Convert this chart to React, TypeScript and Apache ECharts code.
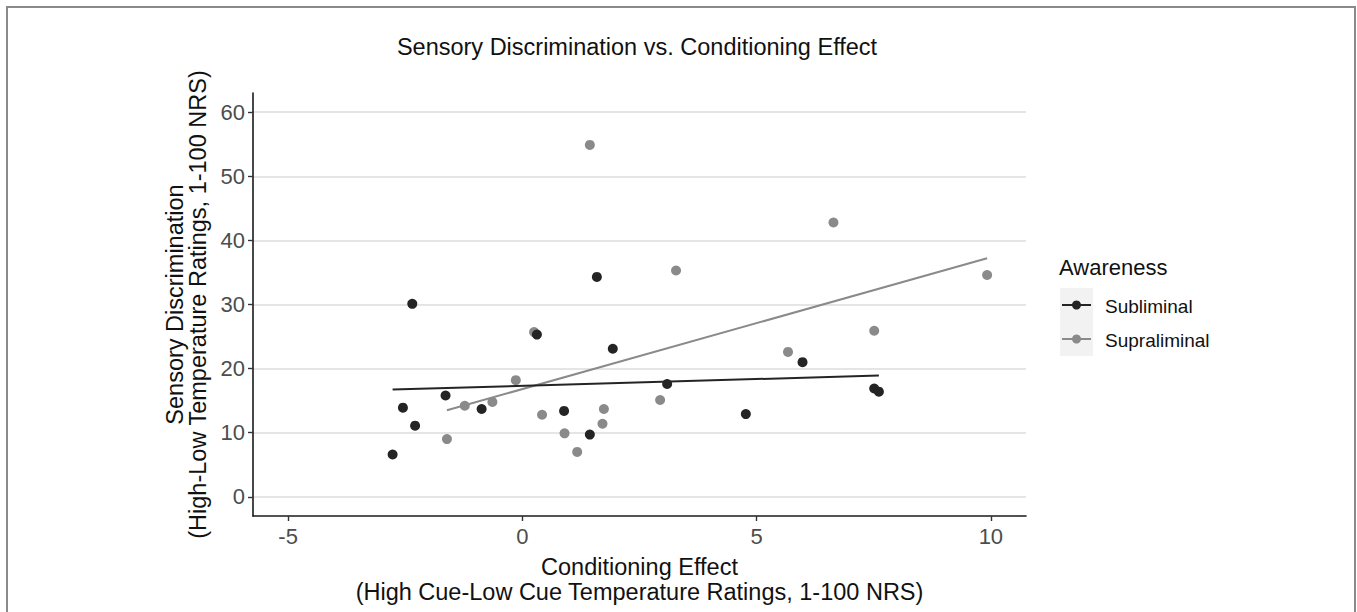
import React, { useEffect, useRef } from "react";
import * as echarts from "echarts";

// Subliminal group (Conditioning Effect, Sensory Discrimination)
const subX = [-2.35, 0.31, 1.93, -1.64, -2.55, -2.29, -2.77, -0.87, 0.89, 1.44, 1.59, 3.09, 4.77, 5.98, 7.51, 7.61];
const subY = [30.1, 25.3, 23.1, 15.8, 13.9, 11.1, 6.6, 13.7, 13.4, 9.7, 34.3, 17.6, 12.9, 21.0, 16.9, 16.4];
// Supraliminal group
const supX = [0.25, -0.14, -1.23, -0.64, -1.61, 0.42, 0.9, 1.17, 1.74, 1.71, 1.44, 2.94, 5.67, 7.51, 9.92, 6.64, 3.28];
const supY = [25.7, 18.2, 14.2, 14.8, 9.0, 12.8, 9.9, 7.0, 13.7, 11.4, 54.9, 15.1, 22.6, 25.9, 34.6, 42.8, 35.3];

const groups = ["Subliminal", "Supraliminal"];
const xTicks = [-5, 0, 5, 10];
const yTicks = [0, 10, 20, 30, 40, 50, 60];

const FONT = '"Liberation Sans", Arial, sans-serif';
const DARK = "#242424";
const GREY = "#8a8a8a";

function pairs(xs: number[], ys: number[]) {
  return xs.map((x, i) => [x, ys[i]]);
}

function fitLine(xs: number[], ys: number[]) {
  const n = xs.length;
  const mx = xs.reduce((a, b) => a + b, 0) / n;
  const my = ys.reduce((a, b) => a + b, 0) / n;
  let sxy = 0;
  let sxx = 0;
  for (let i = 0; i < n; i++) {
    sxy += (xs[i] - mx) * (ys[i] - my);
    sxx += (xs[i] - mx) * (xs[i] - mx);
  }
  const b = sxy / sxx;
  const a = my - b * mx;
  const lo = Math.min(...xs);
  const hi = Math.max(...xs);
  return [
    [lo, a + b * lo],
    [hi, a + b * hi],
  ];
}

export default function App() {
  const ref = useRef<HTMLDivElement>(null);

  useEffect(() => {
    if (!ref.current) return;
    const chart = echarts.init(ref.current, undefined, { renderer: "svg" });

    const axisLine = { show: true, onZero: false, lineStyle: { color: "#1a1a1a", width: 1.6 } };
    const axisTick = { show: true, length: 5, lineStyle: { color: "#333", width: 1.4 } };

    chart.setOption({
      animation: false,
      backgroundColor: "#ffffff",
      textStyle: { fontFamily: FONT },
      grid: { left: 253, right: 331, top: 93, bottom: 96, containLabel: false },
      xAxis: {
        type: "value",
        min: -5.75,
        max: 10.75,
        axisLine,
        axisTick: { ...axisTick, customValues: xTicks },
        axisLabel: {
          customValues: xTicks,
          color: "#4d4d4d",
          fontSize: 22,
          fontFamily: FONT,
          margin: 9,
        },
        splitLine: { show: false },
        name: "Conditioning Effect\n(High Cue-Low Cue Temperature Ratings, 1-100 NRS)",
        nameLocation: "middle",
        nameGap: 38,
        nameTextStyle: { color: "#111", fontSize: 23.5, fontFamily: FONT, lineHeight: 25 },
      },
      yAxis: {
        type: "value",
        min: -3,
        max: 63,
        axisLine,
        axisTick: { ...axisTick, customValues: yTicks },
        axisLabel: {
          customValues: yTicks,
          color: "#4d4d4d",
          fontSize: 22,
          fontFamily: FONT,
          margin: 8,
        },
        splitLine: { show: true, lineStyle: { color: "#dcdcdc", width: 1.5 } },
        name: "Sensory Discrimination\n(High-Low Temperature Ratings, 1-100 NRS)",
        nameLocation: "middle",
        nameRotate: 90,
        nameGap: 43,
        nameTextStyle: { color: "#111", fontSize: 23.5, fontFamily: FONT, lineHeight: 23 },
      },
      graphic: [
        {
          type: "rect",
          shape: { x: 7, y: 7, width: 1348, height: 700 },
          style: { fill: "none", stroke: "#8a8a8a", lineWidth: 2 },
          silent: true,
        },
        {
          type: "text",
          x: 637,
          y: 47,
          style: {
            text: "Sensory Discrimination vs. Conditioning Effect",
            fill: "#111",
            font: `23.5px ${FONT}`,
            align: "center",
            verticalAlign: "middle",
          },
        },
        {
          type: "text",
          x: 1059,
          y: 267,
          style: {
            text: "Awareness",
            fill: "#111",
            font: `22px ${FONT}`,
            align: "left",
            verticalAlign: "middle",
          },
        },
        { type: "rect", shape: { x: 1060, y: 288, width: 33, height: 34 }, style: { fill: "#f2f2f2" } },
        { type: "rect", shape: { x: 1060, y: 322, width: 33, height: 34 }, style: { fill: "#f2f2f2" } },
        { type: "line", shape: { x1: 1062, y1: 305, x2: 1091, y2: 305 }, style: { stroke: DARK, lineWidth: 2 } },
        { type: "circle", shape: { cx: 1076.5, cy: 305, r: 4.5 }, style: { fill: DARK } },
        { type: "line", shape: { x1: 1062, y1: 339, x2: 1091, y2: 339 }, style: { stroke: GREY, lineWidth: 2 } },
        { type: "circle", shape: { cx: 1076.5, cy: 339, r: 4.5 }, style: { fill: GREY } },
        {
          type: "text",
          x: 1105,
          y: 306,
          style: { text: groups[0], fill: "#111", font: `19px ${FONT}`, align: "left", verticalAlign: "middle" },
        },
        {
          type: "text",
          x: 1105,
          y: 340,
          style: { text: groups[1], fill: "#111", font: `19px ${FONT}`, align: "left", verticalAlign: "middle" },
        },
      ],
      series: [
        {
          name: groups[1],
          type: "scatter",
          data: pairs(supX, supY),
          symbolSize: 10,
          itemStyle: { color: GREY, opacity: 1 },
          z: 3,
        },
        {
          name: groups[0],
          type: "scatter",
          data: pairs(subX, subY),
          symbolSize: 10,
          itemStyle: { color: DARK, opacity: 1 },
          z: 4,
        },
        {
          name: groups[1] + " fit",
          type: "line",
          data: fitLine(supX, supY),
          showSymbol: false,
          symbol: "none",
          lineStyle: { color: GREY, width: 2 },
          z: 5,
        },
        {
          name: groups[0] + " fit",
          type: "line",
          data: fitLine(subX, subY),
          showSymbol: false,
          symbol: "none",
          lineStyle: { color: DARK, width: 2 },
          z: 5,
        },
      ],
    });

    return () => chart.dispose();
  }, []);

  return (
    <div
      ref={ref}
      style={{ position: "fixed", left: 0, top: 0, width: 1357, height: 612, background: "#fff" }}
    />
  );
}
